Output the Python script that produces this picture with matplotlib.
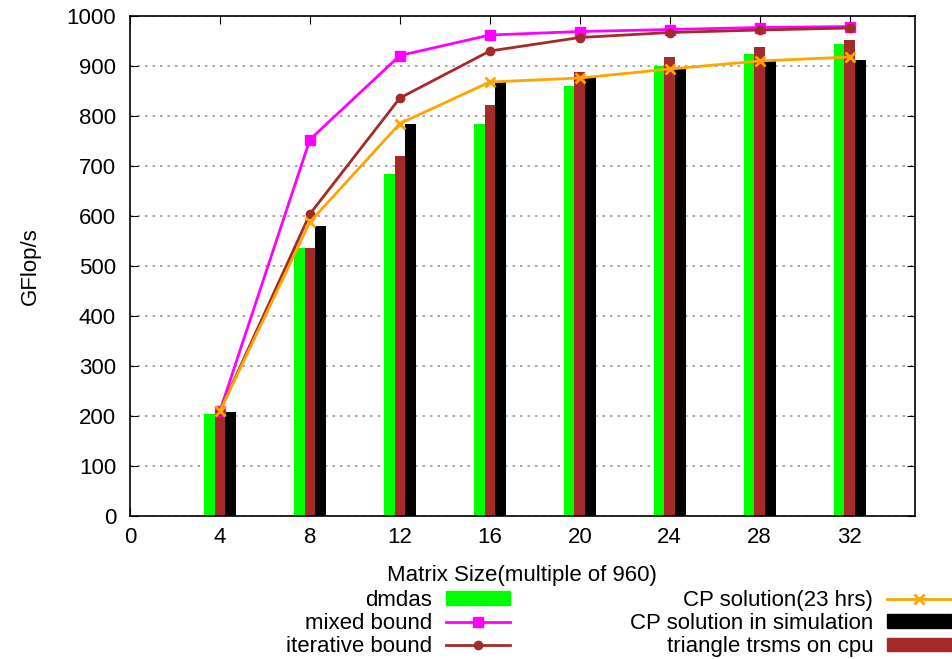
import matplotlib.pyplot as plt
from matplotlib.patches import Patch
from matplotlib.lines import Line2D

plt.rcParams['font.family'] = ['Liberation Sans', 'DejaVu Sans']

sizes = [4, 8, 12, 16, 20, 24, 28, 32]
dmdas = [204, 537, 685, 785, 860, 900, 925, 945]
trsms_cpu = [208, 537, 720, 822, 888, 918, 938, 952]
cp_sim = [208, 580, 784, 868, 878, 896, 912, 913]
mixed_bound = [210, 753, 921, 962, 969, 973, 977, 979]
iter_bound = [210, 604, 836, 930, 957, 967, 972, 976]
cp_23h = [210, 588, 785, 868, 876, 894, 910, 918]

fs = 16
fig = plt.figure(figsize=(9.53, 6.59), dpi=100)
ax = fig.add_axes([0.1364, 0.217, 0.8236, 0.7587])

w = 0.47
ax.bar([s - w for s in sizes], dmdas, width=w, color='#00ff00', zorder=2)
ax.bar(sizes, trsms_cpu, width=w, color='#a52a2a', zorder=2)
ax.bar([s + w for s in sizes], cp_sim, width=w, color='black', zorder=2)

ax.plot(sizes, mixed_bound, color='#ff00ff', lw=2, marker='s', ms=7, zorder=3)
ax.plot(sizes, iter_bound, color='#a52a2a', lw=2, marker='o', ms=6, zorder=3)
ax.plot(sizes, cp_23h, color='#ffa500', lw=2, marker='x', ms=7, mew=2, zorder=3)

ax.set_xlim(0, 34.9)
ax.set_ylim(0, 1000)
ax.set_xticks(range(0, 33, 4))
ax.set_yticks(range(0, 1001, 100))
ax.tick_params(direction='in', top=True, right=True, length=6, labelsize=fs)
ax.tick_params(axis='x', pad=8)
ax.tick_params(axis='y', pad=10)
ax.grid(axis='y', color='#999999', linestyle=(0, (1.5, 3)), lw=1.2, zorder=1)
for s in ax.spines.values():
    s.set_linewidth(1.2)

fig.text(30 / 953, 1 - 266 / 659, 'GFlop/s', rotation=90, ha='center', va='center', fontsize=fs)
fig.text(522 / 953, 1 - 575 / 659, 'Matrix Size(multiple of 960)', ha='center', va='center', fontsize=fs)

handles = [
    Patch(color='#00ff00'),
    Line2D([], [], color='#ff00ff', lw=2, marker='s', ms=7),
    Line2D([], [], color='#a52a2a', lw=2, marker='o', ms=6),
    Line2D([], [], color='#ffa500', lw=2, marker='x', ms=7, mew=2),
    Patch(color='black'),
    Patch(color='#a52a2a'),
]
labels = ['dmdas', 'mixed bound', 'iterative bound',
          'CP solution(23 hrs)', 'CP solution in simulation', 'triangle trsms on cpu']
fig.legend(handles, labels, ncol=2, loc='upper right', bbox_to_anchor=(0.998, 0.105),
           frameon=False, markerfirst=False, fontsize=fs, handlelength=2.9,
           handleheight=0.55, columnspacing=5.4, labelspacing=0.1, borderpad=0,
           borderaxespad=0, handletextpad=0.6)

fig.savefig('out.png', dpi=100)
